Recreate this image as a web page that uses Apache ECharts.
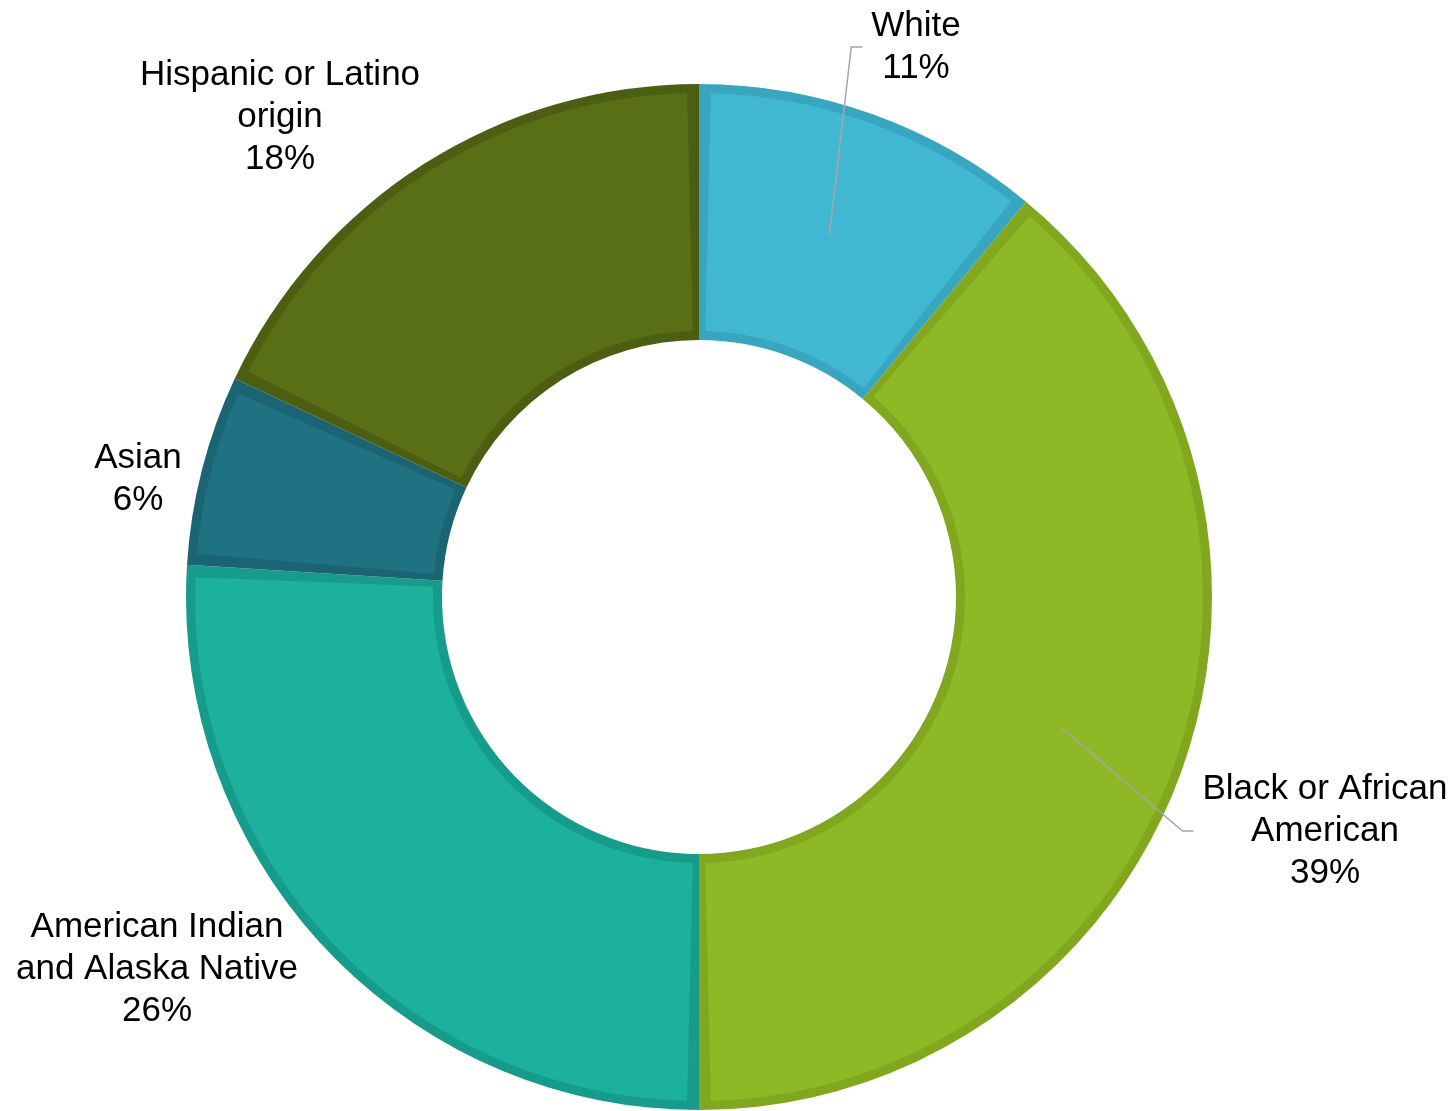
<!DOCTYPE html>
<html>
<head>
<meta charset="utf-8">
<title>Share by race and ethnicity</title>
<script src="https://cdn.jsdelivr.net/npm/echarts@6/dist/echarts.min.js"></script>
<style>
  html, body { margin: 0; padding: 0; background: #ffffff; }
  #chart { width: 1455px; height: 1111px; }
</style>
</head>
<body>
<div id="chart"></div>
<script>
// Groups, clockwise from twelve o'clock
const categories = [
  'White',
  'Black or African\nAmerican',
  'American Indian\nand Alaska Native',
  'Asian',
  'Hispanic or Latino\norigin'
];
// Percent share of each group
const shares = [11, 39, 26, 6, 18];

// Slice fills and their darker rims
const fillColors = ['#41B8D2', '#8FB826', '#1BB19C', '#1F7282', '#586F15'];
const rimColors  = ['#38A6BF', '#81A71F', '#179C8B', '#1B6474', '#4B5E12'];

// Which labels get a leader line
const withLeader = [true, true, false, false, false];
// Label anchor offsets from the ring centre (px)
const labelOffsets = [[217, -550], [626, 234], [-542, 372], [-561, -118], [-419, -480]];

const CX = 699, CY = 597;
const R_IN = 257, R_OUT = 513, RIM = 9;
const R_MID = (R_IN + R_OUT) / 2;

const total = shares.reduce((a, b) => a + b, 0);

const chart = echarts.init(document.getElementById('chart'), null, { renderer: 'canvas' });

function ringData(colors, leaders) {
  return categories.map((name, i) => ({
    name: name,
    value: shares[i],
    itemStyle: { color: colors[i] },
    labelLine: { show: leaders ? withLeader[i] : false }
  }));
}

const ringBase = {
  type: 'pie',
  center: [CX, CY],
  startAngle: 90,
  clockwise: true,
  silent: true,
  avoidLabelOverlap: false,
  emphasis: { disabled: true }
};

chart.setOption({
  backgroundColor: '#ffffff',
  animation: false,
  series: [
    Object.assign({}, ringBase, {
      // rim layer
      z: 2,
      radius: [R_IN, R_OUT],
      label: { show: false },
      labelLine: { show: false },
      data: ringData(rimColors, false)
    }),
    Object.assign({}, ringBase, {
      // fill layer, inset from the rim
      z: 2,
      radius: [R_IN + RIM, R_OUT - RIM],
      padAngle: 2.7,
      label: { show: false },
      labelLine: { show: false },
      data: ringData(fillColors, false)
    }),
    Object.assign({}, ringBase, {
      // label layer on top, so leader lines run over the slices
      z: 3,
      radius: [R_IN, R_OUT],
      label: {
        show: true,
        position: 'outside',
        fontFamily: '"Liberation Sans", Arial, sans-serif',
        fontSize: 35,
        lineHeight: 42,
        color: '#000000',
        align: 'center',
        formatter: p => p.name + '\n' + Math.round(p.percent) + '%'
      },
      labelLine: {
        lineStyle: { color: '#A6A6A6', width: 1.5 }
      },
      labelLayout: function (params) {
        const i = params.dataIndex;
        const x = CX + labelOffsets[i][0];
        const y = CY + labelOffsets[i][1];
        const out = { x: x, y: y, align: 'center', verticalAlign: 'middle' };
        if (withLeader[i]) {
          let before = 0;
          for (let k = 0; k < i; k++) before += shares[k];
          const theta = (before + shares[i] / 2) / total * Math.PI * 2;
          const start = [CX + R_MID * Math.sin(theta), CY - R_MID * Math.cos(theta)];
          const left = x - params.labelRect.width / 2;
          out.labelLinePoints = [start, [left - 20, y], [left - 9, y]];
        }
        return out;
      },
      data: ringData(categories.map(() => 'rgba(0,0,0,0)'), true)
    })
  ]
});
</script>
</body>
</html>
